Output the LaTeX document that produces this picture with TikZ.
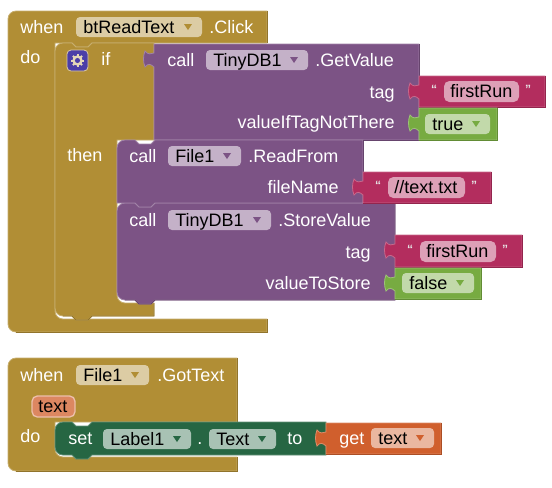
\documentclass[tikz,border=0pt]{standalone}
\usepackage{fontspec}
\setmainfont{Liberation Sans}
\usepackage{xcolor}
\usepackage{tikz}
\definecolor{ctrl_gold}{RGB}{177,142,53}
\definecolor{proc_purple}{RGB}{124,83,133}
\definecolor{text_crimson}{RGB}{179,45,94}
\definecolor{logic_green}{RGB}{119,171,65}
\definecolor{set_green}{RGB}{38,102,67}
\definecolor{var_orange}{RGB}{208,95,45}
\definecolor{gear_blue}{RGB}{75,62,168}
\newcommand{\blockfont}{\fontsize{13.5}{16}\selectfont}
\tikzset{
  stmtblock/.style={fill=#1, draw=#1!72!white, line width=0.6pt},
  edgeline/.style={draw=#1!82!black, line width=0.6pt},
  lbl/.style={font=\blockfont, text=white, anchor=base west, inner sep=0pt},
  lblr/.style={font=\blockfont, text=white, anchor=base east, inner sep=0pt},
  fieldlbl/.style={font=\blockfont, text=black, anchor=base west, inner sep=0pt},
  quotemark/.style={font=\fontsize{9}{9}\selectfont\bfseries, text=white!90!black, inner sep=0pt}
}
% value block with its tab on the left: x, y, width, height, colour
\newcommand{\valueblock}[5]{
  \begin{scope}[shift={(#1,#2)}]
    \draw[stmtblock=#5] (0,0) -- (#3,0) -- (#3,#4) -- (0,#4) -- (0,23)
      .. controls (-3,20) and (-6,19) .. (-9,23)
      .. controls (-11,18) and (-11,12) .. (-9,7)
      .. controls (-6,11) and (-3,10) .. (0,9) -- cycle;
    \draw[edgeline=#5] (#3,0) -- (#3,#4) -- (0,#4);
  \end{scope}
}
% dropdown field: name, x1, x2, y1, fill colour, arrow colour, text
\newcommand{\dropfield}[7]{
  \fill[#5, rounded corners=3pt] (#2,#4) rectangle (#3,#4+20);
  \fill[#6] (#3-18,#4+7) -- (#3-10,#4+7) -- (#3-14,#4+13) -- cycle;
  \node[fieldlbl] (#1) at (#2+7,#4+16) {#7};
}
% string field with its two quotes: name, x1, x2, y1, text
\newcommand{\strfield}[5]{
  \fill[text_crimson!45!white, rounded corners=4pt] (#2,#4) rectangle (#3,#4+21);
  \node[fieldlbl] (#1) at (#2+6,#4+16) {#5};
  \node[quotemark] (#1open) at (#2-10,#4+8) {“};
  \node[quotemark] (#1close) at (#3+9,#4+8) {”};
}
\begin{document}
\begin{tikzpicture}[x=0.75pt, y=-0.75pt]
  \useasboundingbox (0,0) rectangle (552,487);
  % first event block
  \draw[stmtblock=ctrl_gold] (8,100) [rounded corners=6pt] -- (8,11) [sharp corners]
    -- (267,11) -- (267,43) -- (92,43) -- (88,47) -- (76,47) -- (72,43) -- (55,43)
    [rounded corners=6pt] -- (55,319) [sharp corners] -- (267,319) -- (267,332)
    [rounded corners=6pt] -- (8,332) -- cycle;
  \draw[edgeline=ctrl_gold] (267,11) -- (267,43);
  \draw[edgeline=ctrl_gold] (267,319) -- (267,332) -- (16,332);
  % if block
  \draw[stmtblock=ctrl_gold] (55,100) [rounded corners=6pt] -- (55,43) [sharp corners]
    -- (72,43) -- (76,47) -- (88,47) -- (92,43) -- (154,43) -- (154,140) -- (117,140)
    [rounded corners=6pt] -- (117,303) [sharp corners] -- (154,303) -- (154,316)
    -- (92,316) -- (88,320) -- (76,320) -- (72,316) [rounded corners=6pt] -- (55,316) -- cycle;
  \draw[edgeline=ctrl_gold] (154,303) -- (154,316) -- (92,316) -- (88,320) -- (76,320) -- (72,316) -- (63,316);
  % gear button
  \draw[fill=gear_blue, draw=ctrl_gold!45!white, line width=0.6pt, rounded corners=3pt] (67,50) rectangle (88,71);
  \foreach \a in {0,45,...,315} {
    \draw[ctrl_gold!35!white, line width=1.5pt] (77.5,60.5) -- +(\a:6.5);
  }
  \fill[ctrl_gold!35!white] (77.5,60.5) circle (3.9pt);
  \fill[gear_blue] (77.5,60.5) circle (1.9pt);
  % getvalue call and its values
  \valueblock{154}{44}{265}{96}{proc_purple}
  \valueblock{419}{76}{126}{31}{text_crimson}
  \valueblock{419}{108}{78}{32}{logic_green}
  % storevalue call
  \draw[stmtblock=proc_purple] (117,250) [rounded corners=6pt] -- (117,203) [sharp corners]
    -- (135,203) -- (139,207) -- (151,207) -- (155,203) -- (395,203) -- (395,300)
    -- (155,300) -- (151,304) -- (139,304) -- (135,300) [rounded corners=6pt] -- (117,300) -- cycle;
  \draw[edgeline=proc_purple] (395,203) -- (395,300) -- (155,300) -- (151,304) -- (139,304) -- (135,300) -- (125,300);
  % readfrom call
  \draw[stmtblock=proc_purple] (117,180) [rounded corners=6pt] -- (117,140) [sharp corners]
    -- (135,140) -- (139,144) -- (151,144) -- (155,140) -- (363,140) -- (363,203)
    -- (155,203) -- (151,207) -- (139,207) -- (135,203) -- (117,203) -- cycle;
  \draw[edgeline=proc_purple] (363,140) -- (363,203);
  \valueblock{363}{172}{128}{31}{text_crimson}
  \valueblock{395}{235}{127}{32}{text_crimson}
  \valueblock{395}{268}{86}{31}{logic_green}
  % second event block
  \draw[stmtblock=ctrl_gold] (8,420) [rounded corners=6pt] -- (8,358) [sharp corners]
    -- (237,358) -- (237,422) -- (55,422) [rounded corners=6pt] -- (55,457) [sharp corners]
    -- (237,457) -- (237,471) [rounded corners=6pt] -- (8,471) -- cycle;
  \draw[edgeline=ctrl_gold] (237,358) -- (237,422);
  \draw[edgeline=ctrl_gold] (237,457) -- (237,471) -- (16,471);
  % set block
  \draw[stmtblock=set_green] (55,440) [rounded corners=6pt] -- (55,422) [sharp corners]
    -- (72,422) -- (76,426) -- (88,426) -- (92,422) -- (326,422) -- (326,455)
    -- (92,455) -- (88,459) -- (76,459) -- (72,455) [rounded corners=6pt] -- (55,455) -- cycle;
  \valueblock{326}{423}{115}{31}{var_orange}
  % parameter chip
  \draw[fill=var_orange!75!white, draw=var_orange!40!white, line width=1pt, rounded corners=4pt] (32,396) rectangle (75,417);
  % fields
  \dropfield{fldButton}{76}{202}{17}{ctrl_gold!45!white}{ctrl_gold}{btReadText}
  \dropfield{fldDbGet}{206}{308}{50}{proc_purple!45!white}{proc_purple}{TinyDB1}
  \dropfield{fldFile}{168}{241}{146}{proc_purple!45!white}{proc_purple}{File1}
  \dropfield{fldDbStore}{168}{271}{210}{proc_purple!45!white}{proc_purple}{TinyDB1}
  \dropfield{fldTrue}{425}{490}{114}{logic_green!45!white}{logic_green}{true}
  \dropfield{fldFalse}{402}{474}{273}{logic_green!45!white}{logic_green}{false}
  \dropfield{fldFileEvt}{76}{149}{365}{ctrl_gold!45!white}{ctrl_gold}{File1}
  \dropfield{fldLabel}{103}{191}{429}{set_green!40!white}{set_green}{Label1}
  \dropfield{fldProp}{209}{276}{429}{set_green!40!white}{set_green}{Text}
  \dropfield{fldGet}{371}{434}{428}{var_orange!45!white}{var_orange}{text}
  \strfield{strTagGet}{444}{519}{81}{firstRun}
  \strfield{strPath}{388}{465}{177}{//text.txt}
  \strfield{strTagStore}{420}{496}{241}{firstRun}
  % labels
  \node[lbl] (whenClick) at (20,33) {when};
  \node[lbl] (evtClick) at (209,33) {.Click};
  \node[lbl] (doClick) at (20,63) {do};
  \node[lbl] (ifLbl) at (101,65) {if};
  \node[lbl] (thenLbl) at (67,161) {then};
  \node[lbl] (callGet) at (167,66) {call};
  \node[lbl] (getValue) at (315,66) {.GetValue};
  \node[lblr] (tagGet) at (395,98) {tag};
  \node[lblr] (notThere) at (395,128) {valueIfTagNotThere};
  \node[lbl] (callRead) at (129,162) {call};
  \node[lbl] (readFrom) at (248,162) {.ReadFrom};
  \node[lblr] (fileName) at (339,193) {fileName};
  \node[lbl] (callStore) at (129,226) {call};
  \node[lbl] (storeValue) at (278,226) {.StoreValue};
  \node[lblr] (tagStore) at (371,258) {tag};
  \node[lblr] (toStore) at (371,289) {valueToStore};
  \node[lbl] (whenText) at (20,381) {when};
  \node[lbl] (evtText) at (157,381) {.GotText};
  \node[fieldlbl] (paramText) at (38,412) {text};
  \node[lbl] (doText) at (20,442) {do};
  \node[lbl] (setLbl) at (68,444) {set};
  \node[lbl] (dotLbl) at (197,444) {.};
  \node[lbl] (toLbl) at (287,444) {to};
  \node[lbl] (getLbl) at (339,444) {get};
\end{tikzpicture}
\end{document}
